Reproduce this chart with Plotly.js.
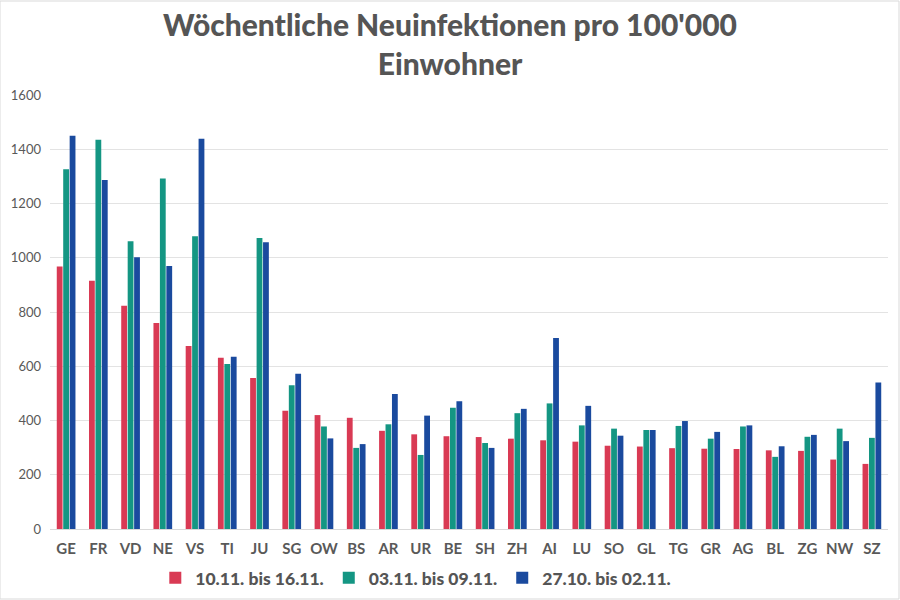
<!DOCTYPE html>
<html>
<head>
<meta charset="utf-8">
<script src="https://cdn.plot.ly/plotly-3.0.1.min.js"></script>
<style>html,body{margin:0;padding:0;background:#fff;}</style>
</head>
<body>
<div id="chart" style="width:900px;height:600px;"></div>
<script>
const cantons = ["GE","FR","VD","NE","VS","TI","JU","SG","OW","BS","AR","UR","BE","SH","ZH","AI","LU","SO","GL","TG","GR","AG","BL","ZG","NW","SZ"];
const week3 = [968, 915, 823, 759, 675, 631, 557, 436, 420, 410, 362, 349, 342, 339, 333, 327, 322, 307, 304, 298, 296, 295, 290, 288, 256, 240];
const week2 = [1326, 1435, 1061, 1292, 1079, 608, 1073, 530, 378, 299, 386, 273, 447, 317, 427, 463, 382, 370, 365, 380, 333, 378, 266, 340, 370, 336];
const week1 = [1450, 1287, 1002, 970, 1439, 635, 1057, 572, 334, 313, 498, 418, 471, 299, 443, 704, 454, 344, 365, 398, 358, 382, 305, 347, 324, 540];
const seriesNames = ["10.11. bis 16.11.", "03.11. bis 09.11.", "27.10. bis 02.11."];
const yTicks = [0, 200, 400, 600, 800, 1000, 1200, 1400, 1600];

const colors = ["#d93a54", "#149683", "#1a4a9e"];
const data = [week3, week2, week1].map((vals, i) => ({
  type: "bar",
  x: cantons,
  y: vals,
  name: seriesNames[i],
  marker: {color: colors[i]},
  hoverinfo: "x+y+name"
}));

const layout = {
  width: 900, height: 600,
  paper_bgcolor: "#ffffff", plot_bgcolor: "#ffffff",
  font: {family: "Lato, 'Open Sans', sans-serif", color: "#595959"},
  title: {
    text: "Wöchentliche Neuinfektionen pro 100'000<br>Einwohner",
    font: {family: "Lato, sans-serif", size: 30, color: "#555555", weight: 900},
    x: 0.5, xanchor: "center",
    yref: "container", y: 0.94, yanchor: "middle"
  },
  margin: {l: 50, r: 12, t: 95, b: 71},
  barmode: "group",
  bargap: 0.4,
  bargroupgap: 0.1,
  xaxis: {
    type: "category",
    tickfont: {family: "Lato, sans-serif", size: 15, color: "#595959", weight: "bold"},
    showgrid: false,
    showline: true, linecolor: "#d9d9d9", linewidth: 1,
    ticks: "", ticklabelstandoff: 6
  },
  yaxis: {
    range: [0, 1600],
    tickvals: yTicks,
    ticktext: yTicks.map(String),
    tickfont: {family: "Lato, sans-serif", size: 13, color: "#595959"},
    showgrid: true, gridcolor: "#e3e3e3", gridwidth: 1,
    zeroline: false, showline: false, ticks: "",
    ticklabelstandoff: 8
  },
  legend: {
    orientation: "h",
    x: 0.462, xanchor: "center", xref: "container",
    yref: "container", y: 0.037, yanchor: "middle",
    font: {family: "Lato, sans-serif", size: 17.5, color: "#555555", weight: 900},
    itemwidth: 30,
    traceorder: "normal"
  },
  shapes: [{
    type: "rect", xref: "paper", yref: "paper",
    x0: -50/838, x1: 1 + 11/838, y0: -70/434, y1: 1 + 94/434,
    line: {color: "#d9d9d9", width: 1}
  }]
};

Plotly.newPlot("chart", data, layout, {staticPlot: true});
</script>
</body>
</html>
